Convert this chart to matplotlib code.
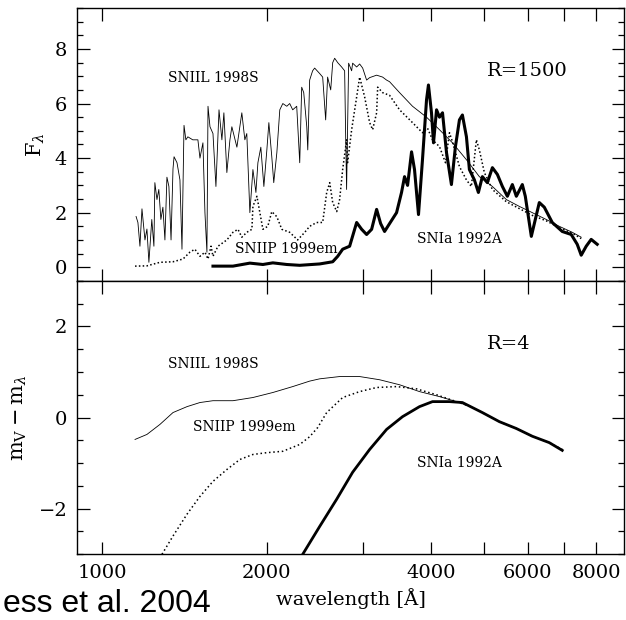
import matplotlib

matplotlib.use("Agg")
import matplotlib.pyplot as plt
from matplotlib.ticker import FixedLocator, MultipleLocator, FuncFormatter

# --- R=1500 spectra (F_lambda) ---
iil_wave = [1154, 1163, 1173, 1183, 1198, 1208, 1218, 1233, 1244, 1249, 1260, 1270, 1281, 1292, 1303,
            1314, 1325, 1337, 1348, 1354, 1371, 1388, 1400, 1412, 1423, 1435, 1465, 1497, 1510, 1529,
            1542, 1555, 1562, 1575, 1595, 1615, 1636, 1656, 1670, 1691, 1713, 1727, 1764, 1801, 1824,
            1839, 1863, 1887, 1911, 1927, 1951, 1976, 2001, 2018, 2043, 2060, 2087, 2113, 2140, 2176,
            2203, 2231, 2269, 2298, 2317, 2337, 2367, 2377, 2396, 2426, 2447, 2499, 2531, 2563, 2584,
            2618, 2640, 2662, 2696, 2741, 2776, 2787, 2799, 2823, 2859, 2871, 2920, 2957, 2995, 3045,
            3084, 3176, 3257, 3312, 3354, 3498, 3694, 3918, 4138, 4370, 4635, 4894, 5170, 5483, 5790,
            6116, 6486, 6850, 7235, 7513]
iil_flux = [1.86, 1.64, 0.77, 2.14, 1.0, 1.4, 0.18, 1.75, 0.77, 3.1, 2.48, 2.85, 1.75, 2.2, 1.0,
            3.3, 2.96, 1.0, 3.6, 4.05, 3.83, 3.2, 0.66, 5.2, 4.67, 4.78, 4.67, 4.67, 4.0, 4.56,
            2.0, 0.55, 5.9, 5.15, 4.9, 2.96, 5.77, 4.67, 5.66, 3.47, 4.67, 5.15, 4.4, 5.66, 4.67,
            4.9, 2.0, 3.58, 2.74, 3.83, 4.4, 2.96, 4.3, 5.3, 4.05, 3.1, 4.2, 5.77, 6.0, 5.9,
            6.0, 5.77, 5.9, 3.83, 6.6, 6.4, 5.15, 4.3, 6.86, 7.2, 7.3, 7.1, 6.97, 5.4, 6.97,
            6.5, 7.5, 7.66, 7.5, 7.34, 7.2, 5.0, 2.85, 7.48, 7.2, 7.48, 7.34, 7.45, 7.3, 6.86,
            6.95, 7.04, 6.97, 6.86, 6.8, 6.4, 5.9, 5.5, 5.04, 4.56, 3.94, 3.32, 2.96, 2.48, 2.23,
            2.0, 1.75, 1.5, 1.28, 1.1]

iip_wave = [1149, 1208, 1276, 1348, 1406, 1447, 1478, 1510, 1542, 1562, 1582, 1595, 1629, 1691, 1735,
            1772, 1801, 1839, 1879, 1887, 1919, 1943, 1968, 2009, 2043, 2087, 2131, 2203, 2278, 2347,
            2396, 2468, 2531, 2574, 2607, 2640, 2685, 2718, 2753, 2799, 2811, 2859, 2920, 2957, 3020,
            3084, 3123, 3176, 3190, 3257, 3354, 3498, 3694, 3852, 3934, 4018, 4138, 4244, 4315, 4370,
            4500, 4635, 4732, 4833, 4894, 4998, 5170, 5483, 5790, 6116, 6486, 6850, 7235, 7513]
iip_flux = [0.04, 0.05, 0.18, 0.2, 0.3, 0.55, 0.66, 0.4, 0.55, 0.3, 0.77, 0.4, 0.77, 1.0, 1.28,
            1.39, 1.1, 1.28, 1.39, 2.23, 2.6, 2.0, 1.39, 1.5, 2.04, 1.85, 1.39, 1.28, 1.0, 1.28,
            1.5, 1.64, 1.64, 2.74, 3.1, 2.37, 2.04, 2.48, 3.58, 4.67, 3.83, 5.04, 6.24, 6.97, 6.24,
            5.3, 5.04, 5.66, 6.6, 6.4, 6.3, 5.77, 5.3, 4.93, 5.1, 4.67, 4.42, 3.83, 4.93, 4.6,
            3.69, 3.2, 2.96, 4.67, 4.3, 3.47, 2.85, 2.4, 2.15, 1.9, 1.7, 1.45, 1.25, 1.05]

ia_wave = [1595, 1735, 1863, 1968, 2052, 2176, 2298, 2499, 2640, 2696, 2753, 2835, 2920, 2982, 3045,
           3110, 3176, 3230, 3284, 3354, 3454, 3527, 3572, 3618, 3679, 3725, 3788, 3852, 3918, 3950,
           4001, 4035, 4087, 4138, 4191, 4262, 4351, 4425, 4500, 4557, 4635, 4693, 4793, 4874, 4956,
           5061, 5170, 5280, 5392, 5506, 5623, 5718, 5864, 5938, 6090, 6298, 6432, 6651, 6937, 7204,
           7388, 7513, 7673, 7835, 8036]
ia_flux = [0.04, 0.04, 0.15, 0.1, 0.16, 0.1, 0.07, 0.12, 0.2, 0.4, 0.66, 0.77, 1.64, 1.39, 1.2,
           1.39, 2.12, 1.6, 1.31, 1.6, 2.0, 2.74, 3.32, 3.0, 4.23, 3.58, 1.93, 3.94, 6.13, 6.68,
           5.66, 4.56, 5.77, 5.5, 5.66, 4.2, 3.03, 4.42, 5.4, 5.58, 4.78, 3.58, 3.2, 2.74, 3.32,
           3.1, 3.65, 3.4, 2.96, 2.6, 3.03, 2.6, 3.03, 2.6, 1.13, 2.37, 2.2, 1.64, 1.31, 1.2,
           0.84, 0.44, 0.77, 1.02, 0.84]

# --- R=4 colours (m_V - m_lambda) ---
iil_mag_wave = [1149, 1208, 1276, 1348, 1430, 1510, 1595, 1735, 1887, 2052, 2231, 2396, 2499, 2718,
                2957, 3216, 3498, 3804, 4138, 4444, 4693, 4956, 5324, 5718, 6116, 6568, 6937]
iil_mag = [-0.48, -0.37, -0.15, 0.11, 0.24, 0.33, 0.37, 0.37, 0.44, 0.55, 0.68, 0.8, 0.85, 0.9,
           0.9, 0.83, 0.72, 0.57, 0.46, 0.35, 0.25, 0.11, -0.09, -0.24, -0.41, -0.55, -0.7]

iip_mag_wave = [1287, 1348, 1430, 1510, 1595, 1691, 1786, 1887, 2001, 2140, 2298, 2396, 2478, 2574,
                2753, 2957, 3176, 3454, 3756, 4087, 4444, 4693, 4956, 5324, 5718, 6116, 6568, 6937]
iip_mag = [-3.0, -2.6, -2.12, -1.73, -1.4, -1.14, -0.92, -0.81, -0.77, -0.74, -0.59, -0.42, -0.22, 0.11,
           0.44, 0.57, 0.66, 0.68, 0.63, 0.5, 0.35, 0.25, 0.11, -0.09, -0.24, -0.41, -0.55, -0.7]

ia_mag_wave = [2327, 2499, 2685, 2871, 3084, 3312, 3542, 3804, 4018, 4315, 4557, 4956, 5324, 5718,
               6116, 6568, 6937]
ia_mag = [-3.0, -2.39, -1.79, -1.2, -0.7, -0.26, 0.02, 0.24, 0.35, 0.35, 0.33, 0.11, -0.09, -0.24,
          -0.41, -0.55, -0.72]

xticks = [1000, 2000, 3000, 4000, 5000, 6000, 7000, 8000]
xlabeled = [1000, 2000, 4000, 6000, 8000]

plt.rcParams["font.family"] = "DejaVu Serif"
plt.rcParams["mathtext.fontset"] = "dejavuserif"

fig = plt.figure(figsize=(6.26, 6.2), dpi=100)
ax1 = fig.add_axes([0.123, 0.547, 0.874, 0.44])
ax2 = fig.add_axes([0.123, 0.106, 0.874, 0.441], sharex=ax1)

ax1.plot(iil_wave, iil_flux, color="black", lw=0.6)
ax1.plot(iip_wave, iip_flux, color="black", lw=1.1, ls=(0, (1, 1.5)))
ax1.plot(ia_wave, ia_flux, color="black", lw=2.2)

ax2.plot(iil_mag_wave, iil_mag, color="black", lw=0.6)
ax2.plot(iip_mag_wave, iip_mag, color="black", lw=1.1, ls=(0, (1, 1.8)))
ax2.plot(ia_mag_wave, ia_mag, color="black", lw=2.0)

ax1.set_xscale("log")
ax1.set_xlim(900, 9000)
ax1.set_ylim(-0.5, 9.5)
ax2.set_ylim(-3, 3)

for ax in (ax1, ax2):
    ax.xaxis.set_major_locator(FixedLocator(xticks))
    ax.xaxis.set_minor_locator(FixedLocator([]))
    ax.yaxis.set_minor_locator(MultipleLocator(0.5))
    ax.tick_params(which="both", direction="in", top=True, right=True, width=0.9, labelsize=14)
    ax.tick_params(which="major", length=9, pad=7)
    ax.tick_params(which="minor", length=4)
    for s in ax.spines.values():
        s.set_linewidth(1.0)

ax1.yaxis.set_major_locator(MultipleLocator(2))
ax2.yaxis.set_major_locator(MultipleLocator(2))
ax1.tick_params(labelbottom=False)
ax2.xaxis.set_major_formatter(FuncFormatter(lambda v, p: f"{int(round(v))}" if int(round(v)) in xlabeled else ""))

ax1.set_ylabel(r"$\mathrm{F}_\lambda$", fontsize=15)
ax1.yaxis.set_label_coords(-0.055, 0.5)
ax2.set_ylabel(r"$\mathrm{m}_\mathrm{V}-\mathrm{m}_\lambda$", fontsize=15)
ax2.yaxis.set_label_coords(-0.088, 0.5)
ax2.set_xlabel("wavelength [Å]", fontsize=14, labelpad=4)

ax1.text(1320, 6.93, "SNIIL 1998S", fontsize=10, va="center")
ax1.text(5061, 7.19, "R=1500", fontsize=14, va="center")
ax1.text(1749, 0.66, "SNIIP 1999em", fontsize=10, va="center")
ax1.text(3757, 1.02, "SNIa 1992A", fontsize=10, va="center")

ax2.text(1320, 1.18, "SNIIL 1998S", fontsize=10, va="center")
ax2.text(5061, 1.62, "R=4", fontsize=14, va="center")
ax2.text(1465, -0.2, "SNIIP 1999em", fontsize=10, va="center")
ax2.text(3757, -1.0, "SNIa 1992A", fontsize=10, va="center")

fig.text(0.004, 0.002, "ess et al. 2004", fontsize=23, family="Liberation Sans", va="bottom", ha="left")

fig.savefig("out.png", dpi=100)
